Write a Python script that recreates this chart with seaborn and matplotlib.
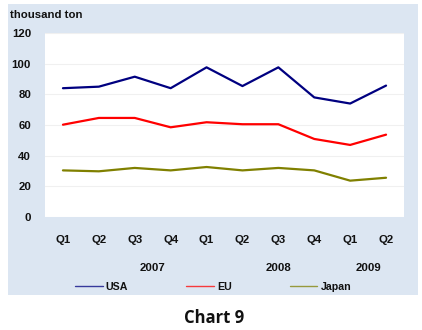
import matplotlib
matplotlib.use("Agg")
import matplotlib.pyplot as plt
import matplotlib.transforms as mtransforms
from matplotlib.patches import Rectangle
import seaborn as sns
import pandas as pd

quarters = ["Q1", "Q2", "Q3", "Q4", "Q1", "Q2", "Q3", "Q4", "Q1", "Q2"]
years = ["2007", "2008", "2009"]
year_pos = [2.5, 6.0, 8.5]
usa = [84, 85, 91.5, 84, 97.6, 85.4, 97.6, 78, 74, 85.7]
eu = [60.2, 64.6, 64.6, 58.5, 61.8, 60.5, 60.5, 50.9, 47, 53.7]
japan = [30.4, 29.8, 32, 30.4, 32.6, 30.4, 32, 30.4, 23.7, 25.6]
series_names = ["USA", "EU", "Japan"]
colors = ["#000080", "#ff0000", "#808000"]

sns.set_theme(style="white")
plt.rcParams["font.family"] = ["Liberation Sans", "DejaVu Sans"]
plt.rcParams["text.color"] = "#111111"
plt.rcParams["xtick.color"] = "#111111"
plt.rcParams["ytick.color"] = "#111111"

rows = []
for name, vals in zip(series_names, [usa, eu, japan]):
    for i, v in enumerate(vals):
        rows.append({"idx": i, "value": v, "series": name})
df = pd.DataFrame(rows)

fig = plt.figure(figsize=(4.22, 3.30), dpi=100)
fig.patch.set_facecolor("white")
bg = Rectangle((8 / 422, 1 - 295 / 330), 410 / 422, 291 / 330,
               transform=fig.transFigure, facecolor="#dce6f2",
               edgecolor="none", zorder=-10)
fig.patches.append(bg)

ax = fig.add_axes([45 / 422, 1 - 217 / 330, 359 / 422, 184 / 330])
ax.set_zorder(1)
ax.set_facecolor("white")
sns.lineplot(data=df, x="idx", y="value", hue="series", palette=colors,
             hue_order=series_names, linewidth=1.6, ax=ax, legend=False, sort=False)

fs = 8.2
ax.set_xlim(-0.5, 9.5)
ax.set_ylim(0, 120)
ax.set_yticks(range(0, 121, 20))
ax.set_yticklabels([str(v) for v in range(0, 121, 20)], fontsize=fs, fontweight="bold")
ax.set_xticks(range(len(quarters)))
ax.set_xticklabels(quarters, fontsize=fs, fontweight="bold")
ax.tick_params(axis="y", length=0, pad=10)
ax.tick_params(axis="x", length=0, pad=13)
ax.set_xlabel("")
ax.set_ylabel("")
for s in ax.spines.values():
    s.set_visible(False)
ax.yaxis.grid(True, color="#f0f0f0", linewidth=0.8)
ax.set_axisbelow(True)

trans = mtransforms.blended_transform_factory(ax.transData, fig.transFigure)
for y, xp in zip(years, year_pos):
    ax.text(xp, 1 - 268 / 330, y, transform=trans, ha="center", va="center",
            fontsize=fs, fontweight="bold", clip_on=False)

fig.text(10 / 422, 1 - 15 / 330, "thousand ton", ha="left", va="center",
         fontsize=fs, fontweight="bold")

handles = [plt.Line2D([], [], color=c, linewidth=1.0, alpha=0.75) for c in colors]
fig.legend(handles, series_names, loc="center", bbox_to_anchor=(213 / 422, 1 - 287 / 330),
           ncol=3, frameon=False, prop={"size": 7.7, "weight": "bold"},
           handlelength=2.6, handletextpad=0.3, columnspacing=5.4)

fig.text(214 / 422, 1 - 318 / 330, "Chart 9", ha="center", va="center",
         fontsize=12, fontweight="bold", family=["Open Sans", "DejaVu Sans"])

fig.savefig("out.png", dpi=100)
